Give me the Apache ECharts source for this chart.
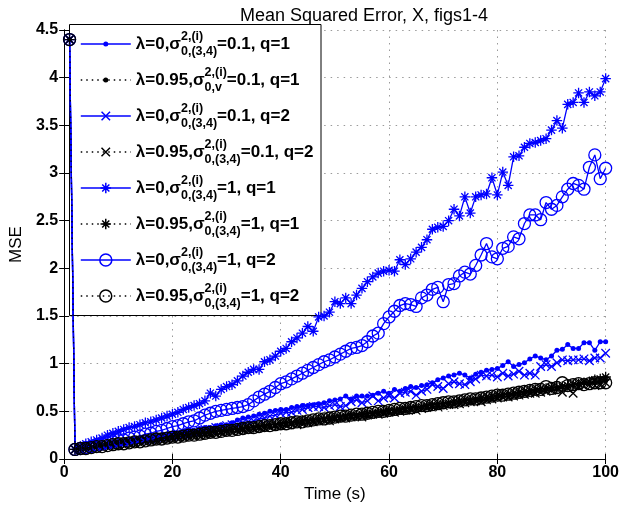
<!DOCTYPE html>
<html><head><meta charset="utf-8">
<script src="https://cdn.jsdelivr.net/npm/echarts@6/dist/echarts.min.js"></script>
<style>html,body{margin:0;padding:0;background:#fff}#c{width:622px;height:509px}</style>
</head><body><div id="c"></div>
<script>
// ---------------- data ----------------
const time = [1,2,3,4,5,6,7,8,9,10,11,12,13,14,15,16,17,18,19,20,
21,22,23,24,25,26,27,28,29,30,31,32,33,34,35,36,37,38,39,40,
41,42,43,44,45,46,47,48,49,50,51,52,53,54,55,56,57,58,59,60,
61,62,63,64,65,66,67,68,69,70,71,72,73,74,75,76,77,78,79,80,
81,82,83,84,85,86,87,88,89,90,91,92,93,94,95,96,97,98,99,100];

// λ=0, σ=0.1, q=1  (blue, dots)
const mseL0S01Q1 = [4.40,0.10,0.11,0.12,0.12,0.14,0.14,0.15,0.16,0.17,
0.18,0.18,0.20,0.21,0.21,0.23,0.24,0.24,0.26,0.27,
0.27,0.29,0.30,0.30,0.32,0.33,0.33,0.35,0.36,0.36,
0.38,0.41,0.43,0.44,0.45,0.47,0.48,0.50,0.51,0.52,
0.52,0.54,0.55,0.56,0.56,0.57,0.58,0.59,0.61,0.62,
0.63,0.66,0.63,0.66,0.66,0.66,0.67,0.69,0.71,0.69,
0.73,0.71,0.74,0.76,0.75,0.77,0.78,0.80,0.83,0.85,
0.87,0.88,0.90,0.88,0.85,0.89,0.91,0.93,0.94,0.95,
0.98,1.02,0.97,0.99,1.01,1.05,1.08,1.06,1.04,1.08,
1.14,1.15,1.20,1.16,1.16,1.22,1.22,1.14,1.23,1.23];

// λ=0.95, σ=0.1, q=1  (black, dots)
const mseL095S01Q1 = [4.40,0.10,0.11,0.11,0.12,0.13,0.14,0.14,0.15,0.16,
0.16,0.17,0.18,0.19,0.19,0.20,0.20,0.21,0.22,0.22,
0.23,0.24,0.24,0.25,0.26,0.26,0.26,0.28,0.28,0.29,
0.30,0.30,0.31,0.32,0.33,0.33,0.34,0.34,0.35,0.36,
0.36,0.37,0.38,0.38,0.39,0.40,0.41,0.41,0.42,0.42,
0.43,0.44,0.44,0.45,0.46,0.45,0.47,0.48,0.48,0.49,
0.50,0.50,0.51,0.52,0.53,0.54,0.54,0.55,0.55,0.57,
0.58,0.58,0.59,0.61,0.61,0.62,0.62,0.63,0.63,0.65,
0.66,0.67,0.68,0.68,0.69,0.70,0.71,0.71,0.73,0.73,
0.74,0.76,0.76,0.77,0.78,0.80,0.79,0.80,0.80,0.82];

// λ=0, σ=0.1, q=2  (blue, x)
const mseL0S01Q2 = [4.40,0.10,0.10,0.11,0.12,0.13,0.13,0.15,0.15,0.16,
0.17,0.18,0.18,0.20,0.20,0.21,0.22,0.23,0.24,0.24,
0.26,0.26,0.28,0.28,0.30,0.31,0.31,0.33,0.33,0.35,
0.36,0.36,0.38,0.39,0.40,0.42,0.43,0.45,0.46,0.48,
0.49,0.49,0.51,0.52,0.54,0.55,0.55,0.54,0.56,0.57,
0.55,0.56,0.60,0.62,0.59,0.61,0.66,0.61,0.64,0.66,
0.64,0.69,0.70,0.71,0.67,0.71,0.73,0.78,0.76,0.74,
0.79,0.81,0.79,0.78,0.81,0.84,0.88,0.87,0.88,0.86,
0.90,0.87,0.89,0.92,0.88,0.90,0.88,0.97,0.99,0.97,
1.01,1.04,1.03,1.04,1.04,1.05,1.03,1.06,1.06,1.11];

// λ=0.95, σ=0.1, q=2  (black, x)
const mseL095S01Q2 = [4.40,0.10,0.10,0.11,0.12,0.12,0.13,0.14,0.15,0.15,
0.16,0.17,0.17,0.18,0.19,0.19,0.20,0.21,0.21,0.22,
0.23,0.23,0.24,0.25,0.25,0.26,0.27,0.27,0.28,0.29,
0.29,0.30,0.31,0.31,0.32,0.33,0.33,0.34,0.35,0.35,
0.36,0.37,0.36,0.38,0.38,0.39,0.40,0.41,0.40,0.42,
0.43,0.43,0.44,0.45,0.44,0.46,0.47,0.47,0.48,0.49,
0.49,0.50,0.51,0.52,0.51,0.53,0.54,0.55,0.55,0.56,
0.57,0.57,0.58,0.59,0.60,0.61,0.60,0.62,0.63,0.64,
0.65,0.65,0.66,0.67,0.68,0.69,0.69,0.70,0.71,0.72,
0.73,0.70,0.74,0.69,0.76,0.77,0.78,0.77,0.79,0.80];

// λ=0, σ=1, q=1  (blue, asterisk)
const mseL0S1Q1 = [4.40,0.10,0.13,0.16,0.18,0.20,0.22,0.25,0.27,0.29,
0.31,0.33,0.34,0.36,0.38,0.39,0.41,0.43,0.45,0.47,
0.49,0.52,0.54,0.56,0.58,0.61,0.69,0.66,0.73,0.76,
0.78,0.82,0.87,0.91,0.94,0.94,1.02,1.04,1.08,1.13,
1.16,1.23,1.27,1.32,1.39,1.34,1.49,1.50,1.54,1.65,
1.63,1.69,1.63,1.72,1.79,1.86,1.91,1.95,1.97,1.98,
1.97,2.09,2.04,2.10,2.17,2.22,2.30,2.41,2.43,2.44,
2.50,2.62,2.55,2.75,2.58,2.75,2.77,2.78,2.95,2.77,
3.01,2.87,3.17,3.18,3.27,3.31,3.32,3.34,3.36,3.45,
3.55,3.47,3.72,3.74,3.84,3.74,3.85,3.81,3.85,3.99];

// λ=0.95, σ=1, q=1  (black, asterisk)
const mseL095S1Q1 = [4.40,0.10,0.11,0.12,0.12,0.13,0.14,0.15,0.15,0.16,
0.17,0.17,0.18,0.19,0.20,0.20,0.21,0.22,0.22,0.23,
0.24,0.24,0.25,0.26,0.27,0.27,0.28,0.29,0.29,0.30,
0.31,0.31,0.32,0.33,0.33,0.34,0.35,0.36,0.36,0.37,
0.38,0.38,0.39,0.40,0.40,0.41,0.42,0.42,0.43,0.44,
0.44,0.45,0.46,0.46,0.47,0.48,0.48,0.49,0.50,0.51,
0.51,0.52,0.53,0.54,0.54,0.55,0.56,0.57,0.58,0.58,
0.59,0.60,0.61,0.62,0.62,0.63,0.64,0.65,0.66,0.67,
0.68,0.68,0.69,0.70,0.71,0.72,0.73,0.74,0.74,0.75,
0.75,0.76,0.77,0.78,0.79,0.80,0.81,0.83,0.84,0.86];

// λ=0, σ=1, q=2  (blue, circle)
const mseL0S1Q2 = [4.40,0.10,0.11,0.12,0.13,0.15,0.16,0.17,0.18,0.20,
0.20,0.22,0.23,0.24,0.26,0.27,0.29,0.30,0.32,0.34,
0.35,0.37,0.39,0.40,0.43,0.46,0.48,0.50,0.51,0.52,
0.53,0.54,0.55,0.57,0.61,0.65,0.68,0.71,0.75,0.79,
0.81,0.84,0.87,0.90,0.93,0.96,0.99,1.02,1.04,1.07,
1.10,1.13,1.16,1.17,1.19,1.23,1.29,1.32,1.42,1.49,
1.55,1.61,1.63,1.62,1.60,1.69,1.72,1.78,1.80,1.65,
1.83,1.84,1.92,1.96,1.94,2.03,2.14,2.26,2.12,2.10,
2.21,2.23,2.33,2.31,2.47,2.56,2.56,2.51,2.69,2.62,
2.66,2.75,2.83,2.89,2.87,2.83,3.06,3.19,2.94,3.05];

// λ=0.95, σ=1, q=2  (black, circle)
const mseL095S1Q2 = [4.40,0.10,0.11,0.11,0.12,0.13,0.13,0.14,0.15,0.16,
0.16,0.17,0.18,0.18,0.19,0.20,0.21,0.21,0.22,0.23,
0.23,0.24,0.25,0.25,0.26,0.27,0.28,0.28,0.29,0.30,
0.30,0.31,0.32,0.33,0.33,0.34,0.35,0.35,0.36,0.37,
0.37,0.38,0.39,0.39,0.40,0.41,0.42,0.42,0.43,0.44,
0.45,0.45,0.46,0.47,0.47,0.48,0.49,0.50,0.50,0.51,
0.52,0.53,0.53,0.54,0.55,0.56,0.56,0.57,0.58,0.59,
0.60,0.60,0.61,0.62,0.63,0.63,0.64,0.65,0.66,0.67,
0.67,0.68,0.69,0.70,0.71,0.72,0.73,0.73,0.76,0.74,
0.75,0.80,0.77,0.78,0.79,0.78,0.79,0.80,0.80,0.80];

const xTicks = [0, 20, 40, 60, 80, 100];
const yTicks = [0, 0.5, 1, 1.5, 2, 2.5, 3, 3.5, 4, 4.5];

const titleText = 'Mean Squared Error, X, figs1-4';
const xName = 'Time (s)';
const yName = 'MSE';

// legend label pieces: [lead, superscript, subscript, tail]
const legendParts = [
  ['λ=0,σ', '2,(i)', '0,(3,4)', '=0.1, q=1'],
  ['λ=0.95,σ', '2,(i)', '0,v', '=0.1, q=1'],
  ['λ=0,σ', '2,(i)', '0,(3,4)', '=0.1, q=2'],
  ['λ=0.95,σ', '2,(i)', '0,(3,4)', '=0.1, q=2'],
  ['λ=0,σ', '2,(i)', '0,(3,4)', '=1, q=1'],
  ['λ=0.95,σ', '2,(i)', '0,(3,4)', '=1, q=1'],
  ['λ=0,σ', '2,(i)', '0,(3,4)', '=1, q=2'],
  ['λ=0.95,σ', '2,(i)', '0,(3,4)', '=1, q=2']
];
const seriesValues = [mseL0S01Q1, mseL095S01Q1, mseL0S01Q2, mseL095S01Q2,
                      mseL0S1Q1, mseL095S1Q1, mseL0S1Q2, mseL095S1Q2];

// ---------------- styling ----------------
const FONT = 'Liberation Sans, Arial, Helvetica, sans-serif';
const BLUE = '#0000ff', BLACK = '#000000';
const X_PATH = 'path://M0,0L10,10M0,10L10,0';
const AST_PATH = 'path://M5,0L5,10M0,5L10,5M1.6,1.6L8.4,8.4M1.6,8.4L8.4,1.6';
const styles = [
  {color: BLUE,  dotted: false, symbol: 'circle', size: 5,   filled: true},
  {color: BLACK, dotted: true,  symbol: 'circle', size: 5,   filled: true},
  {color: BLUE,  dotted: false, symbol: X_PATH,   size: 8.5, filled: false},
  {color: BLACK, dotted: true,  symbol: X_PATH,   size: 8.5, filled: false},
  {color: BLUE,  dotted: false, symbol: AST_PATH, size: 10.5,filled: false},
  {color: BLACK, dotted: true,  symbol: AST_PATH, size: 10.5,filled: false},
  {color: BLUE,  dotted: false, symbol: 'circle', size: 12,  filled: false},
  {color: BLACK, dotted: true,  symbol: 'circle', size: 12,  filled: false}
];
const legendRowY = [44, 80, 116, 152, 188, 224, 260, 296];

function richLabel(p) {
  const [lead, sup, sub, tail] = p;
  if (sup.length <= sub.length) {
    return '{m|' + lead + '}{supz|' + sup + '}{sub|' + sub + '}{m|' + tail + '}';
  }
  return '{m|' + lead + '}{subz|' + sub + '}{sup|' + sup + '}{m|' + tail + '}';
}
const names = legendParts.map(p => p.join('|'));

const rich = {
  m:    {fontFamily: FONT, fontSize: 17, fontWeight: 'bold', color: '#000', lineHeight: 28, verticalAlign: 'middle'},
  sup:  {fontFamily: FONT, fontSize: 12.5, fontWeight: 'bold', color: '#000', height: 13, verticalAlign: 'top'},
  supz: {fontFamily: FONT, fontSize: 12.5, fontWeight: 'bold', color: '#000', height: 13, verticalAlign: 'top', width: 0},
  sub:  {fontFamily: FONT, fontSize: 12.5, fontWeight: 'bold', color: '#000', height: 13, verticalAlign: 'bottom'},
  subz: {fontFamily: FONT, fontSize: 12.5, fontWeight: 'bold', color: '#000', height: 13, verticalAlign: 'bottom', width: 0}
};

const series = seriesValues.map((vals, i) => {
  const s = styles[i];
  const blue = s.color === BLUE;
  return {
    name: names[i],
    type: 'line',
    data: time.map((t, k) => [t, vals[k]]),
    symbol: s.symbol,
    symbolSize: s.size,
    showSymbol: true,
    clip: false,
    lineStyle: {color: s.color, width: blue ? 1.3 : 1, type: s.dotted ? [1.5, 4] : 'solid'},
    itemStyle: s.filled
      ? {color: s.color, borderColor: s.color, borderWidth: 0}
      : {color: 'none', borderColor: s.color, borderWidth: 1.3},
    emphasis: {disabled: true},
    animation: false
  };
});

const legends = names.map((n, i) => ({
  data: [n],
  left: 80,
  top: legendRowY[i] - 14,
  padding: 0,
  itemWidth: 50,
  itemHeight: styles[i].size / 0.8,
  selectedMode: false,
  lineStyle: {width: styles[i].dotted ? 1.5 : 1.6},
  itemStyle: {borderWidth: styles[i].filled ? 0 : 1.5},
  formatter: () => richLabel(legendParts[i]),
  textStyle: {rich: rich, fontFamily: FONT}
}));

const axisCommon = {
  axisLine: {show: true, lineStyle: {color: '#000', width: 1}},
  axisTick: {show: true, inside: true, length: 5, lineStyle: {color: '#000', width: 1}}
};

const option = {
  animation: false,
  backgroundColor: '#fff',
  textStyle: {fontFamily: FONT},
  title: {
    text: titleText, left: 359, top: 2, textAlign: 'center',
    textStyle: {fontFamily: FONT, fontSize: 18, fontWeight: 'normal', color: '#000'}
  },
  grid: {left: 60, right: 16, top: 30, bottom: 50, containLabel: false},
  xAxis: [
    Object.assign({
      type: 'value', min: xTicks[0], max: xTicks[xTicks.length - 1], interval: xTicks[1] - xTicks[0],
      position: 'bottom',
      name: xName, nameLocation: 'middle', nameGap: 25,
      nameTextStyle: {fontFamily: FONT, fontSize: 17, color: '#000'},
      axisLabel: {color: '#000', fontFamily: FONT, fontSize: 16, fontWeight: 'bold', margin: 6},
      splitLine: {show: true, lineStyle: {color: '#9a9a9a', width: 1, type: [1.5, 5]}}
    }, axisCommon),
    Object.assign({
      type: 'value', min: xTicks[0], max: xTicks[xTicks.length - 1], interval: xTicks[1] - xTicks[0],
      position: 'top', axisLabel: {show: false}, splitLine: {show: false}
    }, axisCommon)
  ],
  yAxis: [
    Object.assign({
      type: 'value', min: yTicks[0], max: yTicks[yTicks.length - 1], interval: yTicks[1] - yTicks[0],
      position: 'left',
      name: yName, nameLocation: 'middle', nameGap: 30,
      nameTextStyle: {fontFamily: FONT, fontSize: 17, color: '#000'},
      axisLabel: {color: '#000', fontFamily: FONT, fontSize: 16, fontWeight: 'bold', margin: 6},
      splitLine: {show: true, lineStyle: {color: '#9a9a9a', width: 1, type: [1.5, 5]}}
    }, axisCommon),
    Object.assign({
      type: 'value', min: yTicks[0], max: yTicks[yTicks.length - 1], interval: yTicks[1] - yTicks[0],
      position: 'right', axisLabel: {show: false}, splitLine: {show: false}
    }, axisCommon)
  ],
  legend: legends,
  graphic: [{
    type: 'rect', z: 3,
    shape: {x: 69.5, y: 24.5, width: 251.5, height: 291},
    style: {fill: '#fff', stroke: '#000', lineWidth: 1}
  }],
  series: series
};

const chart = echarts.init(document.getElementById('c'), null, {renderer: 'canvas'});
chart.setOption(option);
</script>
</body></html>
